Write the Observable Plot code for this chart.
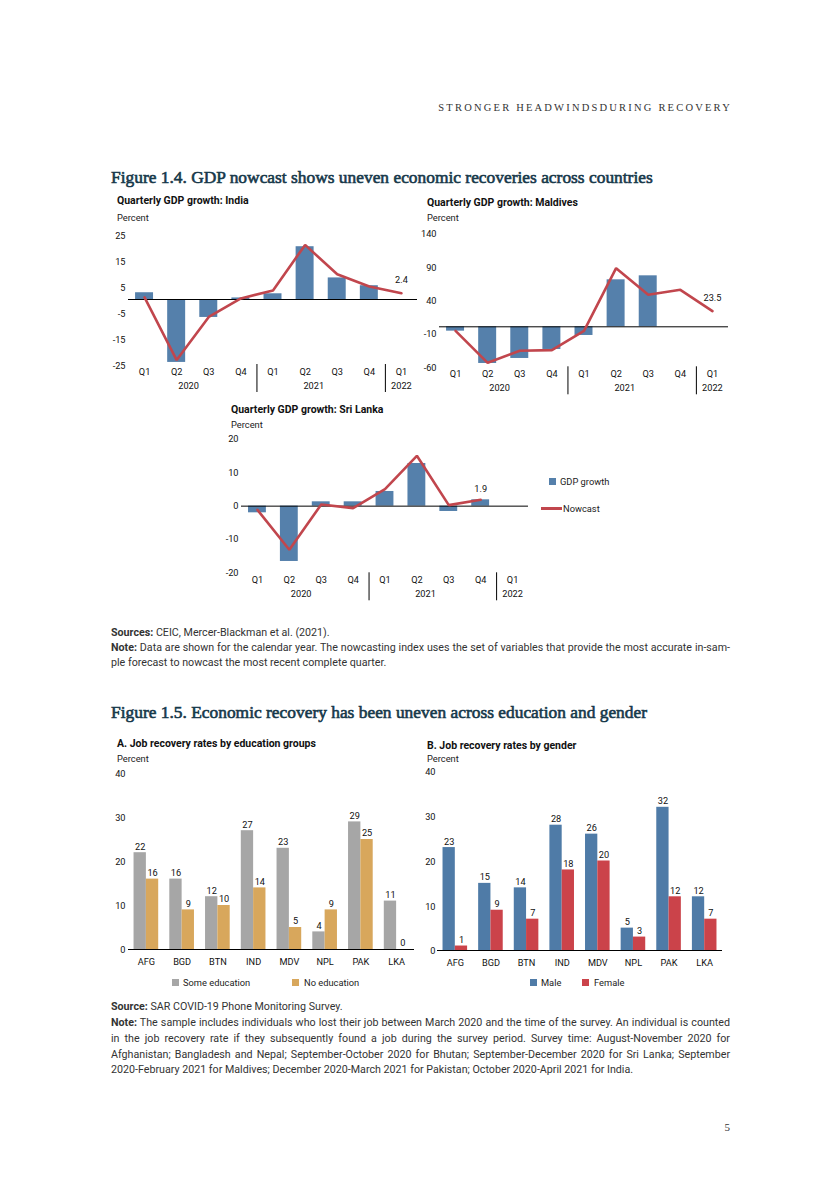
<!DOCTYPE html>
<html>
<head>
<meta charset="utf-8">
<script src="https://cdn.jsdelivr.net/npm/d3@7"></script>
<script src="https://cdn.jsdelivr.net/npm/@observablehq/plot@0.6"></script>
<style>
  html, body { margin: 0; padding: 0; background: #fff; }
  #page { position: relative; width: 840px; height: 1200px; overflow: hidden; background: #fff; }
  .t { position: absolute; white-space: nowrap; color: #222; }
  .sans { font-family: Roboto, 'Open Sans', sans-serif; }
  .serif { font-family: 'Liberation Serif', 'DejaVu Serif', serif; }
  .figtitle { font-size: 17.4px; font-weight: normal; color: #16384a; -webkit-text-stroke: 0.6px #16384a; }
  .ctitle { font-size: 10.5px; font-weight: bold; color: #111; }
  .unit { font-size: 9.3px; color: #222; }
  .note { font-size: 10.7px; color: #333; width: 619px; left: 111px; white-space: normal; line-height: 15px; }
  .just { text-align: justify; text-align-last: justify; }
  .chart { position: absolute; }
  .chart svg { overflow: visible; }
  .sw { position: absolute; width: 7px; height: 7px; }
  .ln { position: absolute; height: 2.5px; }
</style>
</head>
<body>
<div id="page"></div>
<script>
// ---------------- Data ----------------
const quarters = ["Q1","Q2","Q3","Q4","Q1","Q2","Q3","Q4","Q1"];
const years = ["2020","2021","2022"];
const yearPos = [1.37, 5.27, 8];          // position of each year label along the quarter index
const yearBreaks = [3.5, 7.5];            // separators between years

const indiaGDP = [2.6, -24.2, -6.9, 0.6, 2.2, 20.3, 8.3, 5.3, null];
const indiaNowcast = [0.8, -23.3, -6.7, 0.4, 3.5, 21.0, 9.7, 5.0, 2.4];
const indiaTicks = [25, 15, 5, -5, -15, -25];

const maldivesGDP = [-6.5, -55, -47.5, -34, -13, 70.5, 76.5, null, null];
const maldivesNowcast = [-6, -54, -36, -35, -6, 88, 48, 55.5, 23.5];
const maldivesTicks = [140, 90, 40, -10, -60];

const sriLankaGDP = [-2, -16.6, 1.3, 1.3, 4.4, 12.8, -1.6, 1.9, null];
const sriLankaNowcast = [-1.1, -13.1, 0.5, -0.6, 5.1, 15.1, 0.3, 1.9, null];
const sriLankaTicks = [20, 10, 0, -10, -20];

const countries = ["AFG","BGD","BTN","IND","MDV","NPL","PAK","LKA"];
const someEducation = [22, 16, 12, 27, 23, 4, 29, 11];
const noEducation = [16, 9, 10, 14, 5, 9, 25, 0];
const male = [23, 15, 14, 28, 26, 5, 32, 12];
const female = [1, 9, 7, 18, 20, 3, 12, 7];
const jobTicks = [0, 10, 20, 30, 40];

// ---------------- Style ----------------
const SANS = "Roboto, 'Open Sans', sans-serif";
const BLUE = "#5580ab";
const RED = "#c1464d";
const GRAY = "#a6a6a6";
const GOLD = "#d8a75c";
const MALE = "#4f7ba7";
const FEMALE = "#cb434a";

const page = document.getElementById("page");

function addText(html, cls, left, cy, lh, extra = {}) {
  const d = document.createElement("div");
  d.className = "t " + cls;
  d.innerHTML = html;
  d.style.left = left + "px";
  d.style.top = (cy - lh / 2) + "px";
  d.style.lineHeight = lh + "px";
  Object.assign(d.style, extra);
  page.appendChild(d);
  return d;
}
function place(svg, left, top) {
  const w = document.createElement("div");
  w.className = "chart";
  w.style.left = left + "px";
  w.style.top = top + "px";
  w.appendChild(svg);
  page.appendChild(w);
}

// ---------------- Quarterly chart ----------------
function quarterly({gdp, nowcast, ticks, domain, labelIdx, labelText, labelDy, tickDy, width, height, margins}) {
  const data = quarters.map((q, i) => ({i, q, gdp: gdp[i], now: nowcast[i]}));
  const bars = data.filter(d => d.gdp != null);
  const line = data.filter(d => d.now != null);
  const lab = [{i: labelIdx, v: nowcast[labelIdx], t: labelText}];
  return Plot.plot({
    width, height,
    marginLeft: margins[0], marginRight: margins[1], marginTop: margins[2], marginBottom: margins[3],
    style: {fontFamily: SANS, fontSize: "9.2px", color: "#111", background: "transparent", overflow: "visible"},
    x: {domain: [-0.5, 8.5]},
    y: {domain},
    marks: [
      Plot.rectY(bars, {x1: d => d.i - 0.28, x2: d => d.i + 0.28, y1: 0, y2: "gdp", fill: BLUE}),
      Plot.ruleY([0], {stroke: "#000", strokeWidth: 1}),
      Plot.line(line, {x: "i", y: "now", stroke: RED, strokeWidth: 2.6, strokeLinejoin: "miter"}),
      Plot.text(lab, {x: "i", y: "v", text: "t", dy: labelDy, fill: "#111", fontSize: 9.2}),
      Plot.axisY({ticks, tickSize: 0, tickPadding: 3, tickFormat: d => String(d), dy: tickDy, label: null, fill: "#111"}),
      Plot.axisX({ticks: d3.range(quarters.length), tickSize: 0, tickPadding: 4, tickFormat: i => quarters[i], label: null, fill: "#111"}),
      Plot.axisX({ticks: yearBreaks, tickSize: 28, tickFormat: () => "", label: null, stroke: "#000"}),
      Plot.axisX({ticks: yearPos, tickSize: 0, tickPadding: 18, tickFormat: d => years[yearPos.indexOf(d)], label: null, fill: "#111"})
    ]
  });
}

// ---------------- Grouped bar chart ----------------
function grouped({a, b, colA, colB, width, height, margins, pad}) {
  const data = countries.map((c, i) => ({i, c, a: a[i], b: b[i]}));
  const bw = 0.345;
  return Plot.plot({
    width, height,
    marginLeft: margins[0], marginRight: margins[1], marginTop: margins[2], marginBottom: margins[3],
    style: {fontFamily: SANS, fontSize: "9.2px", color: "#111", background: "transparent", overflow: "visible"},
    x: {domain: [-0.5, 7.5]},
    y: {domain: [0, 40]},
    marks: [
      Plot.rectY(data, {x1: d => d.i - bw, x2: d => d.i, y1: 0, y2: "a", fill: colA}),
      Plot.rectY(data, {x1: d => d.i, x2: d => d.i + bw, y1: 0, y2: "b", fill: colB}),
      Plot.ruleY([0], {stroke: "#000", strokeWidth: 1}),
      Plot.text(data, {x: d => d.i - bw / 2, y: "a", text: d => String(d.a), dy: -6, fill: "#111", fontSize: 9.2}),
      Plot.text(data, {x: d => d.i + bw / 2, y: "b", text: d => String(d.b), dy: -6, fill: "#111", fontSize: 9.2}),
      Plot.axisY({ticks: jobTicks, tickSize: 0, tickPadding: pad, tickFormat: d => String(d), dy: 1, label: null, fill: "#111"}),
      Plot.axisX({ticks: d3.range(countries.length), tickSize: 0, tickPadding: 9, tickFormat: i => countries[i], label: null, fill: "#111"})
    ]
  });
}

// ---------------- Page text ----------------
addText("STRONGER HEADWINDSDURING RECOVERY", "serif", 0, 108, 14,
  {left: "auto", right: "108px", fontSize: "10.5px", letterSpacing: "2.2px", color: "#333"});

addText("Figure 1.4. GDP nowcast shows uneven economic recoveries across countries", "serif figtitle", 111, 177, 22);

addText("Quarterly GDP growth: India", "sans ctitle", 117, 201, 12);
addText("Percent", "sans unit", 117, 217, 11);
addText("Quarterly GDP growth: Maldives", "sans ctitle", 427, 203, 12);
addText("Percent", "sans unit", 427, 217, 11);
addText("Quarterly GDP growth: Sri Lanka", "sans ctitle", 231, 410, 12);
addText("Percent", "sans unit", 231, 424, 11);

// Sri Lanka legend
(function () {
  const s = document.createElement("div"); s.className = "sw"; s.style.left = "549px"; s.style.top = "478px"; s.style.background = BLUE; page.appendChild(s);
  const l = document.createElement("div"); l.className = "ln"; l.style.left = "541px"; l.style.width = "21px"; l.style.top = "507px"; l.style.background = RED; page.appendChild(l);
})();
addText("GDP growth", "sans unit", 560, 481.5, 11);
addText("Nowcast", "sans unit", 563, 508, 11);

addText("<b>Sources:</b> CEIC, Mercer-Blackman et al. (2021).", "sans note", 111, 632, 15);
addText("<b>Note:</b> Data are shown for the calendar year. The nowcasting index uses the set of variables that provide the most accurate in-sam-", "sans note just", 111, 647, 15);
addText("ple forecast to nowcast the most recent complete quarter.", "sans note", 111, 662, 15);

addText("Figure 1.5. Economic recovery has been uneven across education and gender", "serif figtitle", 111, 712, 22);

addText("A. Job recovery rates by education groups", "sans ctitle", 117, 744, 12);
addText("Percent", "sans unit", 117, 758, 11);
addText("B. Job recovery rates by gender", "sans ctitle", 427, 746, 12);
addText("Percent", "sans unit", 427, 758, 11);

// Fig 1.5 legends
[[172, GRAY, 183, "Some education"], [292, GOLD, 304, "No education"], [530, MALE, 541, "Male"], [582, FEMALE, 594, "Female"]]
  .forEach(([sx, col, tx, txt]) => {
    const s = document.createElement("div"); s.className = "sw"; s.style.left = sx + "px"; s.style.top = "978.5px"; s.style.background = col; page.appendChild(s);
    addText(txt, "sans unit", tx, 982, 11);
  });

addText("<b>Source:</b> SAR COVID-19 Phone Monitoring Survey.", "sans note", 111, 1006, 15);
addText("<b>Note:</b> The sample includes individuals who lost their job between March 2020 and the time of the survey. An individual is counted", "sans note just", 111, 1022, 15);
addText("in the job recovery rate if they subsequently found a job during the survey period. Survey time: August-November 2020 for", "sans note just", 111, 1038, 15);
addText("Afghanistan; Bangladesh and Nepal; September-October 2020 for Bhutan; September-December 2020 for Sri Lanka; September", "sans note just", 111, 1054, 15);
addText("2020-February 2021 for Maldives; December 2020-March 2021 for Pakistan; October 2020-April 2021 for India.", "sans note", 111, 1069, 15);

addText("5", "serif", 0, 1127, 14, {left: "auto", right: "110px", fontSize: "11px", color: "#333"});

// ---------------- Charts ----------------
place(quarterly({gdp: indiaGDP, nowcast: indiaNowcast, ticks: indiaTicks, domain: [-25, 25],
  labelIdx: 8, labelText: "2.4", labelDy: -13, tickDy: 2,
  width: 329, height: 176, margins: [28, 12, 12, 34]}), 100, 222);

place(quarterly({gdp: maldivesGDP, nowcast: maldivesNowcast, ticks: maldivesTicks, domain: [-60, 140],
  labelIdx: 8, labelText: "23.5", labelDy: -13, tickDy: 1,
  width: 328, height: 179.3, margins: [29, 10, 12, 34]}), 410, 221);

place(quarterly({gdp: sriLankaGDP, nowcast: sriLankaNowcast, ticks: sriLankaTicks, domain: [-20, 20],
  labelIdx: 7, labelText: "1.9", labelDy: -11, tickDy: 0,
  width: 328, height: 179.3, margins: [31, 10, 12, 34]}), 210, 427);

place(grouped({a: someEducation, b: noEducation, colA: GRAY, colB: GOLD,
  width: 324, height: 212, margins: [28, 10, 11, 25], pad: 3}), 100, 762);

place(grouped({a: male, b: female, colA: MALE, colB: FEMALE,
  width: 322, height: 215, margins: [27, 10, 11, 25], pad: 2}), 410, 760);
</script>
</body>
</html>
